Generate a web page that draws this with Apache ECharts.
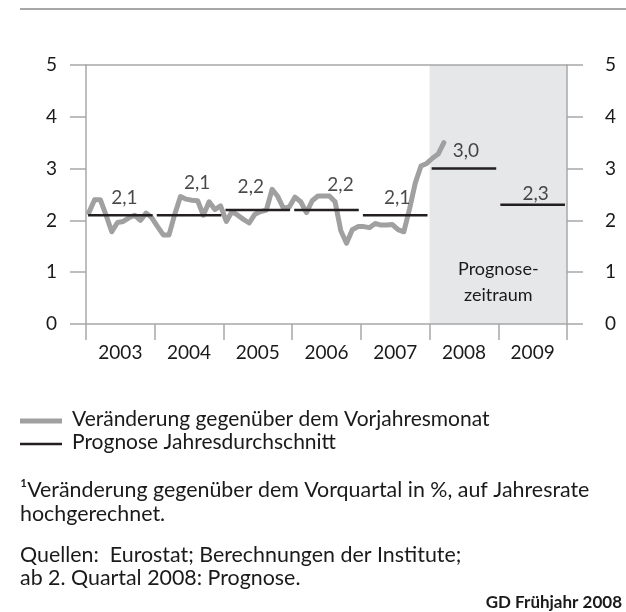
<!DOCTYPE html>
<html>
<head>
<meta charset="utf-8">
<script src="https://cdn.jsdelivr.net/npm/echarts@6/dist/echarts.min.js"></script>
<style>
  html, body { margin: 0; padding: 0; background: #fff; }
  #chart { width: 626px; height: 612px; }
</style>
</head>
<body>
<div id="chart"></div>
<script>
// Verbraucherpreise Euroraum, Veränderung gegenüber Vorjahresmonat in %
var startYear = 2003;
var years = ["2003", "2004", "2005", "2006", "2007", "2008", "2009"];
var yTicks = [0, 1, 2, 3, 4, 5];

// monatlich, Jan 2003 bis Mär 2008
var monthly = [
  2.15, 2.4, 2.4, 2.1, 1.78, 1.96, 1.98, 2.05, 2.1, 2.0, 2.14, 2.05,
  1.88, 1.72, 1.72, 2.12, 2.46, 2.41, 2.39, 2.38, 2.1, 2.36, 2.21, 2.28,
  1.98, 2.17, 2.1, 2.02, 1.95, 2.12, 2.17, 2.2, 2.6, 2.46, 2.23, 2.26,
  2.45, 2.36, 2.15, 2.38, 2.47, 2.47, 2.47, 2.36, 1.8, 1.56, 1.82, 1.88,
  1.88, 1.86, 1.94, 1.91, 1.91, 1.92, 1.82, 1.78, 2.22, 2.72, 3.05, 3.1,
  3.2, 3.28, 3.5
];

// Jahresdurchschnitt (Prognose ab 2008)
var annual = [2.1, 2.1, 2.2, 2.2, 2.1, 3.0, 2.3];
var forecastFrom = 2008;

var legendNames = ["Veränderung gegenüber dem Vorjahresmonat", "Prognose Jahresdurchschnitt"];

// Lage der Beschriftungen relativ zur Mitte jedes Jahresstrichs
var labelOffsets = [[4, -17], [8, -32], [-7, -23], [14, -25], [2, -17], [2, -18], [3, -11]];

var FONT = "Lato";
var TXT = "#1a1a1a";
var AXIS = "#a8a8a8";
var GREY = "#a0a0a0";
var BLACK = "#231f20";

var monthlyData = monthly.map(function (v, i) {
  return [startYear + (i + 0.5) / 12, v];
});

var annualData = [];
var annualLabels = [];
annual.forEach(function (v, i) {
  var y = startYear + i;
  annualData.push([y + 0.03, v], [y + 0.97, v], [y + 1, "-"]);
  annualLabels.push({
    value: [y + 0.5, v],
    label: { offset: labelOffsets[i] }
  });
});

var chart = echarts.init(document.getElementById("chart"), null, { renderer: "canvas" });

var opt = {
  animation: false,
  textStyle: { fontFamily: FONT, color: TXT },
  grid: { left: 86, right: 59, top: 65, bottom: 288, containLabel: false },
  xAxis: [
    {
      type: "category",
      data: years,
      position: "bottom",
      boundaryGap: true,
      z: 3,
      axisLine: { lineStyle: { color: AXIS, width: 1.5 } },
      axisTick: { show: true, length: 16, alignWithLabel: false, lineStyle: { color: AXIS, width: 1.5 } },
      axisLabel: { margin: 19, fontSize: 19, color: TXT, fontFamily: FONT },
      splitLine: { show: false }
    },
    {
      type: "value",
      min: startYear,
      max: startYear + years.length,
      interval: 1,
      show: false
    },
    {
      type: "category",
      data: years,
      position: "top",
      z: 3,
      axisLine: { lineStyle: { color: AXIS, width: 1.5 } },
      axisTick: { show: false },
      axisLabel: { show: false }
    }
  ],
  yAxis: [
    {
      type: "value",
      position: "left",
      min: 0,
      max: 5,
      interval: 1,
      z: 3,
      axisLine: { show: true, lineStyle: { color: AXIS, width: 1.5 } },
      axisTick: { show: true, inside: false, length: 16, lineStyle: { color: AXIS, width: 1.5 } },
      axisLabel: { margin: 29, fontSize: 19, color: TXT, fontFamily: FONT },
      splitLine: { show: false }
    },
    {
      type: "value",
      position: "right",
      min: 0,
      max: 5,
      interval: 1,
      z: 3,
      axisLine: { show: true, lineStyle: { color: AXIS, width: 1.5 } },
      axisTick: { show: true, inside: false, length: 16, lineStyle: { color: AXIS, width: 1.5 } },
      axisLabel: { margin: 38, fontSize: 19, color: TXT, fontFamily: FONT },
      splitLine: { show: false }
    }
  ],
  series: [
    {
      name: legendNames[0],
      type: "line",
      xAxisIndex: 1,
      yAxisIndex: 0,
      data: monthlyData,
      symbol: "none",
      z: 4,
      lineStyle: { color: GREY, width: 5, join: "round", cap: "round" },
      itemStyle: { color: GREY },
      markArea: {
        silent: true,
        itemStyle: { color: "#e6e7e9" },
        label: {
          show: true,
          position: "insideBottom",
          distance: 16,
          formatter: "Prognose-\nzeitraum",
          fontFamily: FONT,
          fontSize: 18,
          lineHeight: 26,
          color: TXT
        },
        data: [[{ xAxis: forecastFrom, yAxis: 0 }, { xAxis: startYear + years.length, yAxis: 5 }]]
      }
    },
    {
      name: legendNames[1],
      type: "line",
      xAxisIndex: 1,
      yAxisIndex: 0,
      data: annualData,
      symbol: "none",
      connectNulls: false,
      z: 5,
      lineStyle: { color: BLACK, width: 2.5 },
      itemStyle: { color: BLACK }
    },
    {
      type: "scatter",
      xAxisIndex: 1,
      yAxisIndex: 0,
      data: annualLabels,
      symbolSize: 1,
      itemStyle: { color: "rgba(0,0,0,0)" },
      z: 6,
      label: {
        show: true,
        position: "inside",
        fontFamily: FONT,
        fontSize: 19,
        color: TXT,
        formatter: function (p) {
          return p.value[1].toFixed(1).replace(".", ",");
        }
      }
    }
  ],
  graphic: [
    {
      type: "line",
      shape: { x1: 20, y1: 9, x2: 626, y2: 9 },
      style: { stroke: "#a8a8a8", lineWidth: 2 }
    },
    // Legende
    {
      type: "line",
      shape: { x1: 20, y1: 421, x2: 62, y2: 421 },
      style: { stroke: GREY, lineWidth: 5 }
    },
    {
      type: "text",
      left: 72,
      top: 409,
      style: { text: legendNames[0], font: "21px " + FONT, fill: TXT }
    },
    {
      type: "line",
      shape: { x1: 20, y1: 444, x2: 62, y2: 444 },
      style: { stroke: BLACK, lineWidth: 2.5 }
    },
    {
      type: "text",
      left: 72,
      top: 432,
      style: { text: legendNames[1], font: "21px " + FONT, fill: TXT }
    },
    // Fußnoten
    {
      type: "text",
      left: 20,
      top: 478,
      style: {
        text: "¹Veränderung gegenüber dem Vorquartal in %, auf Jahresrate\nhochgerechnet.",
        font: "21.4px " + FONT,
        lineHeight: 24,
        fill: TXT
      }
    },
    {
      type: "text",
      left: 20,
      top: 544,
      style: {
        text: "Quellen:  Eurostat; Berechnungen der Institute;\nab 2. Quartal 2008: Prognose.",
        font: "21.4px " + FONT,
        lineHeight: 23,
        fill: TXT
      }
    },
    {
      type: "text",
      right: 4,
      top: 594,
      style: {
        text: "GD Frühjahr 2008",
        font: "bold 17px " + FONT,
        fill: TXT
      }
    }
  ]
};

chart.setOption(opt);
</script>
</body>
</html>
